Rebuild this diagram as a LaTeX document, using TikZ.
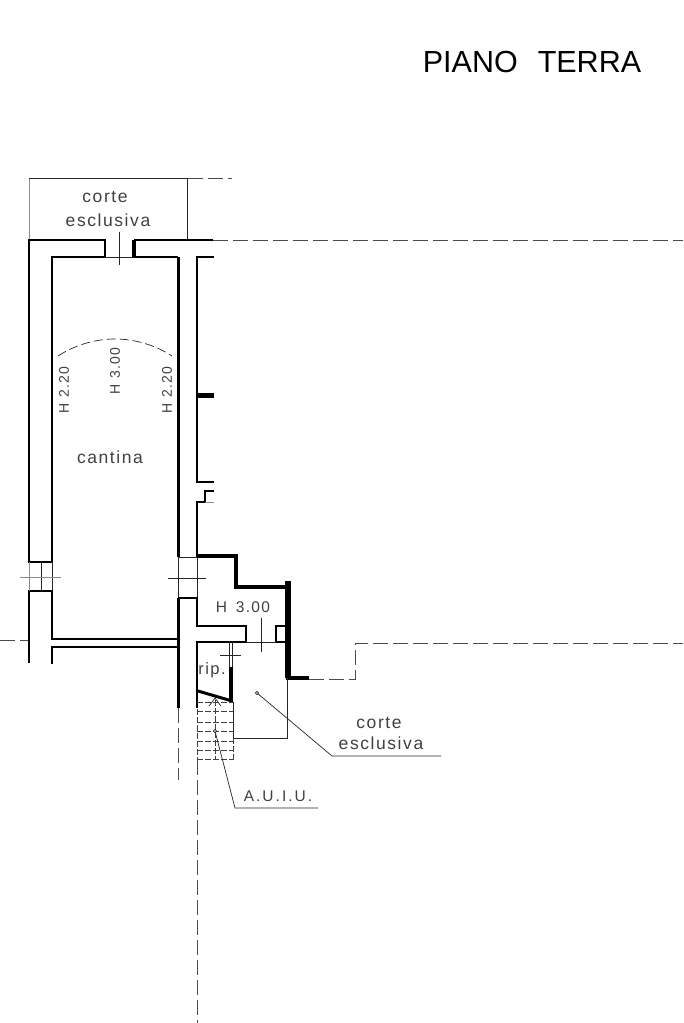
\documentclass[tikz,border=0pt]{standalone}
\usepackage{fontspec}
\setmainfont{Liberation Sans}
\newfontfamily\cad[LetterSpace=9]{Liberation Sans}
\newfontfamily\cadwide[LetterSpace=13]{Liberation Sans}
\tikzset{
  wall/.style={line width=2.6pt,line cap=butt,line join=miter},
  heavy/.style={line width=4.6pt,line cap=butt,line join=miter},
  thinline/.style={line width=0.7pt,black!85},
  greyline/.style={line width=0.7pt,black!45},
  limitline/.style={line width=0.7pt,black!70,dash pattern=on 15pt off 5pt},
  shortdash/.style={line width=0.8pt,black!75,dash pattern=on 6pt off 2pt},
  lbl/.style={inner sep=0pt,text=black!75,font=\cad\fontsize{17.5}{17.5}\selectfont},
  dimlbl/.style={inner sep=0pt,text=black!75,font=\cad\fontsize{14}{14}\selectfont},
  dimwide/.style={inner sep=0pt,text=black!75,font=\cad\fontsize{15.5}{15.5}\selectfont},
}
\begin{document}
\begin{tikzpicture}[x=1pt,y=-1pt]
\useasboundingbox (0,0) rectangle (683,1023);
% court outline and dashed limits
\draw[greyline] (29,240) -- (29,178.5);
\draw[thinline] (29,178.5) -- (187.5,178.5) -- (187.5,240);
\draw[limitline] (187.5,178.5) -- (232,178.5);
\draw[limitline] (213,240.5) -- (683,240.5);
\draw[limitline] (0,640) -- (29,640);
\draw[limitline] (309,679) -- (355,679) -- (355,643) -- (683,643);
\draw[limitline] (197,760) -- (197,1023);
\draw[limitline] (178,708) -- (178,780);
% main walls
\draw[wall] (105,257) -- (52,257) -- (52,562) -- (29,562) -- (29,240) -- (105,240) -- (105,257);
\draw[heavy,line width=3.4pt] (134,240) -- (134,257);
\draw[wall] (134,240) -- (213,240);
\draw[wall] (134,257) -- (178,257);
\draw[heavy,line width=3pt] (178,257) -- (178,557);
\draw[wall] (214,257) -- (197,257) -- (197,482) -- (214,482);
\draw[wall,line width=4.6pt] (197,395.5) -- (214,395.5);
\draw[wall,line width=2pt] (214,491) -- (205,491) -- (205,502) -- (197,502) -- (197,557);
\draw[greyline] (205,502) -- (214,502);
% doors of the main room
\draw[thinline] (105,257) -- (134,257);
\draw[thinline] (119.5,232) -- (119.5,265);
\draw[wall] (52,591) -- (29,591) -- (29,663);
\draw[wall] (52,591) -- (52,639) -- (178,639);
\draw[wall] (52,664) -- (52,647) -- (178,647);
\draw[greyline] (29,562) -- (29,591);
\draw[thinline] (52,562) -- (52,591);
\draw[thinline] (41,562) -- (41,591);
\draw[greyline] (20,577) -- (61,577);
\draw[thinline] (178,557) -- (178,598);
\draw[thinline] (197,557) -- (197,598);
\draw[thinline] (168,578) -- (206,578);
\draw[thinline] (178,557) -- (197,557);
% central block
\draw[heavy,line width=3pt] (178,598) -- (178,708);
\draw[wall] (178,598) -- (197,598) -- (197,626) -- (246,626) -- (246,642) -- (197,642) -- (197,708);
% stepped heavy wall
\draw[heavy] (197,556) -- (236,556) -- (236,587) -- (288,587);
\draw[heavy,line width=5.6pt] (288,581) -- (288,678);
\draw[heavy] (286,678) -- (309,678);
\draw[wall] (288,626) -- (276,626) -- (276,642) -- (288,642);
\draw[thinline] (246,642) -- (276,642);
\draw[thinline] (261,618) -- (261,652);
% rip door
\draw[thinline] (229.5,642) -- (229.5,667);
\draw[thinline] (232.5,642) -- (232.5,667);
\draw[thinline] (220,655) -- (241,655);
\draw[wall,line width=3.4pt] (231,667) -- (231,702);
\draw[wall,line width=3pt] (198,691) -- (232,701);
% lower court
\draw[thinline] (287,678) -- (287,738) -- (233,738) -- (233,702);
% stairs
\foreach \yy in {702,711,722,731,741,750,759}
  \draw[shortdash] (197,\yy) -- (233,\yy);
\draw[shortdash] (215,700) -- (215,760);
\draw[shortdash] (233,738) -- (233,760);
\draw[shortdash] (197,709) -- (197,760);
\draw[thinline] (209,706) -- (215,698) -- (221,706);
% leaders
\coordinate (dotA) at (215,731);
\coordinate (dotB) at (257,693);
\coordinate (kneeA) at (235,808);
\coordinate (endA) at (318,808);
\coordinate (kneeB) at (332,756);
\coordinate (endB) at (441,756);
\draw[thinline] (dotA) -- (kneeA) -- (endA);
\draw[thinline] (dotB) -- (kneeB) -- (endB);
\draw[thinline,fill=white] (dotA) circle (1.7pt);
\draw[thinline,fill=white] (dotB) circle (1.7pt);
% vault
\draw[thinline,dash pattern=on 9pt off 4pt] (58,356) .. controls (75,345) and (95,339) .. (115,339) .. controls (135,339) and (155,345) .. (172,356);
% text
\node[lbl] (t1) at (105,197) {corte};
\node[lbl] (t2) at (108,220) {esclusiva};
\node[lbl] (t3) at (110,457) {cantina};
\node[dimlbl,rotate=90] (t4) at (64,390) {H 2.20};
\node[dimlbl,rotate=90] (t5) at (115,371) {H 3.00};
\node[dimlbl,rotate=90] (t6) at (167,390) {H 2.20};
\node[dimwide] (t7) at (243,607) {H\hspace{3pt} 3.00};
\node[lbl,font=\cad\fontsize{16.5}{16.5}\selectfont] (t8) at (212,670.5) {rip.};
\node[lbl] (t9) at (379,723) {corte};
\node[lbl] (t10) at (381,743) {esclusiva};
\node[inner sep=0pt,text=black!75,font=\cadwide\fontsize{15.5}{15.5}\selectfont] (t11) at (278,796) {A.U.I.U.};
\node[inner sep=0pt,text=black,font=\fontsize{30.5}{30.5}\selectfont] (title) at (532,62) {PIANO\hspace{20pt}TERRA};
\end{tikzpicture}
\end{document}
